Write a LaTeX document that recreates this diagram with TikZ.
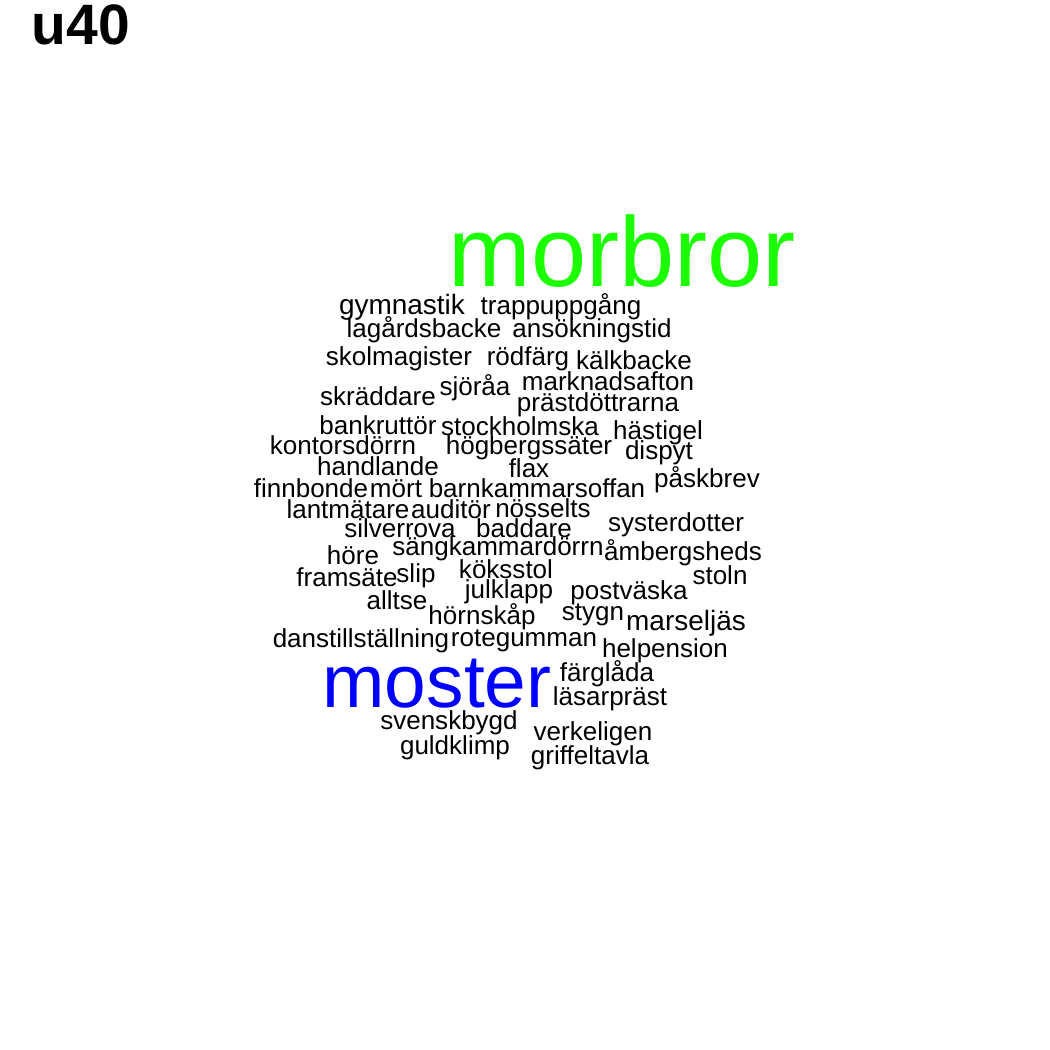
\documentclass[tikz,border=0pt]{standalone}
\usepackage{fontspec}
\setmainfont{Liberation Sans}
\definecolor{cloudgreen}{RGB}{28,255,0}
\definecolor{cloudblue}{RGB}{0,0,255}
\begin{document}
\begin{tikzpicture}[x=0.01cm, y=-0.01cm]
    \tikzstyle{wd}=[anchor=base, inner sep=0pt, font=\fontsize{7.4}{8}\selectfont]
    \tikzstyle{wdl}=[wd, font=\fontsize{7.95}{8.5}\selectfont]
    \tikzstyle{big}=[anchor=base, inner sep=0pt]

    \fill[white] (0,0) rectangle (1050,1050);
    \useasboundingbox (0,0) rectangle (1050,1050);

    \node[big, anchor=base west, font=\bfseries\fontsize{16.2}{18}\selectfont] (title) at (31,44) {u40};

    \node[big, text=cloudgreen, font=\fontsize{28.2}{30}\selectfont] (morbror) at (622,286) {morbror};
    \node[big, text=cloudblue, font=\fontsize{21.3}{23}\selectfont] (moster) at (437,707) {moster};

    % upper block
    \node[wdl] (gymnastik) at (402,314) {gymnastik};
    \node[wd] (trappuppgang) at (561,314) {trappuppgång};
    \node[wd] (lagardsbacke) at (424,337) {lagårdsbacke};
    \node[wd] (ansokningstid) at (592,337) {ansökningstid};
    \node[wd] (skolmagister) at (399,365) {skolmagister};
    \node[wd] (rodfarg) at (528,365) {rödfärg};
    \node[wd] (kalkbacke) at (634,369) {kälkbacke};
    \node[wd] (skraddare) at (378,405) {skräddare};
    \node[wd] (sjoraa) at (475,395) {sjöråa};
    \node[wd] (marknadsafton) at (608,390) {marknadsafton};
    \node[wd] (prastdottrarna) at (598,411) {prästdöttrarna};
    \node[wd] (bankruttor) at (378,434) {bankruttör};
    \node[wd] (stockholmska) at (520,435) {stockholmska};
    \node[wd] (hastigel) at (658,439) {hästigel};
    \node[wd] (kontorsdorrn) at (343,454) {kontorsdörrn};
    \node[wd] (hogbergssater) at (529,454) {högbergssäter};
    \node[wd] (dispyt) at (659,459) {dispyt};
    \node[wd] (handlande) at (378,475) {handlande};
    \node[wd] (flax) at (529,477) {flax};
    \node[wd] (finnbonde) at (311,497) {finnbonde};
    \node[wd] (mort) at (396,497) {mört};
    \node[wd] (barnkammarsoffan) at (537,497) {barnkammarsoffan};
    \node[wd] (paskbrev) at (707,487) {påskbrev};

    % middle block
    \node[wd] (lantmatare) at (348,518) {lantmätare};
    \node[wd] (auditor) at (451,518) {auditör};
    \node[wd] (nosselts) at (543,517) {nösselts};
    \node[wd] (silverrova) at (400,537) {silverrova};
    \node[wd] (baddare) at (524,537) {baddare};
    \node[wd] (systerdotter) at (676,531) {systerdotter};
    \node[wd] (sangkammardorrn) at (498,555) {sängkammardörrn};
    \node[wd] (ambergsheds) at (683,560) {åmbergsheds};
    \node[wd] (hore) at (353,564) {höre};
    \node[wd] (framsate) at (347,586) {framsäte};
    \node[wd] (slip) at (416,582) {slip};
    \node[wd] (koksstol) at (506,578) {köksstol};
    \node[wd] (julklapp) at (509,598) {julklapp};
    \node[wd] (stoln) at (720,584) {stoln};
    \node[wd] (postvaska) at (629,599) {postväska};
    \node[wd] (alltse) at (397,609) {alltse};
    \node[wd] (hornskap) at (482,624) {hörnskåp};
    \node[wd] (stygn) at (593,620) {stygn};
    \node[wdl] (marseljas) at (686,630) {marseljäs};
    \node[wd] (danstillstallning) at (361,647) {danstillställning};
    \node[wd] (rotegumman) at (524,646) {rotegumman};
    \node[wd] (helpension) at (665,657) {helpension};

    % lower block
    \node[wd] (farglada) at (607,681) {färglåda};
    \node[wd] (lasarprast) at (610,705) {läsarpräst};
    \node[wd] (svenskbygd) at (449,729) {svenskbygd};
    \node[wd] (verkeligen) at (593,740) {verkeligen};
    \node[wd] (guldklimp) at (455,754) {guldklimp};
    \node[wd] (griffeltavla) at (590,764) {griffeltavla};
\end{tikzpicture}
\end{document}
